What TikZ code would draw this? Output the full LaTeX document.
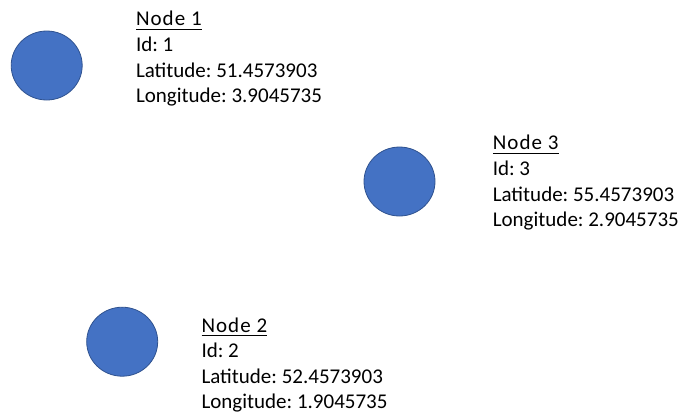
\documentclass[tikz,border=0pt]{standalone}
\usepackage{fontspec}
\setmainfont{Carlito}
\usetikzlibrary{shapes.geometric}
\definecolor{dotfill}{HTML}{4472C4}
\definecolor{dotedge}{HTML}{2F528F}
\tikzset{
  dot/.style={ellipse, fill=dotfill, draw=dotedge, line width=0.8pt,
              minimum width=71pt, minimum height=69pt, inner sep=0pt},
  info/.style={anchor=base west, inner sep=0pt, outer sep=0pt,
               font=\fontsize{21pt}{26pt}\selectfont\frenchspacing, text=black},
  title/.style={info, font=\fontsize{21pt}{26pt}\selectfont\addfontfeature{LetterSpace=5}},
  ul/.style={line width=1.2pt, black}
}
\begin{document}
\begin{tikzpicture}[x=1pt, y=-1pt]
  \useasboundingbox (0,0) rectangle (682,416);

  % node 1
  \node[dot] (c1) at (46.7,65.5) {};
  \node[title] (t1) at (136,25.7) {Node 1};
  \node[info] (i1) at (136,51.4) {Id: 1};
  \node[info] (la1) at (136,77.1) {Latitude: 51.4573903};
  \node[info] (lo1) at (136,102.8) {Longitude: 3.9045735};
  \draw[ul] ([yshift=-3.6pt]t1.base west) -- ([yshift=-3.6pt]t1.base east);

  % node 3
  \node[dot] (c3) at (399.5,181.5) {};
  \node[title] (t3) at (492.8,149.6) {Node 3};
  \node[info] (i3) at (492.8,175.3) {Id: 3};
  \node[info] (la3) at (492.8,201.0) {Latitude: 55.4573903};
  \node[info] (lo3) at (492.8,226.7) {Longitude: 2.9045735};
  \draw[ul] ([yshift=-3.6pt]t3.base west) -- ([yshift=-3.6pt]t3.base east);

  % node 2
  \node[dot] (c2) at (122.2,341.7) {};
  \node[title] (t2) at (201.5,332.0) {Node 2};
  \node[info] (i2) at (201.5,357.7) {Id: 2};
  \node[info] (la2) at (201.5,383.3) {Latitude: 52.4573903};
  \node[info] (lo2) at (201.5,408.7) {Longitude: 1.9045735};
  \draw[ul] ([yshift=-3.6pt]t2.base west) -- ([yshift=-3.6pt]t2.base east);
\end{tikzpicture}
\end{document}
